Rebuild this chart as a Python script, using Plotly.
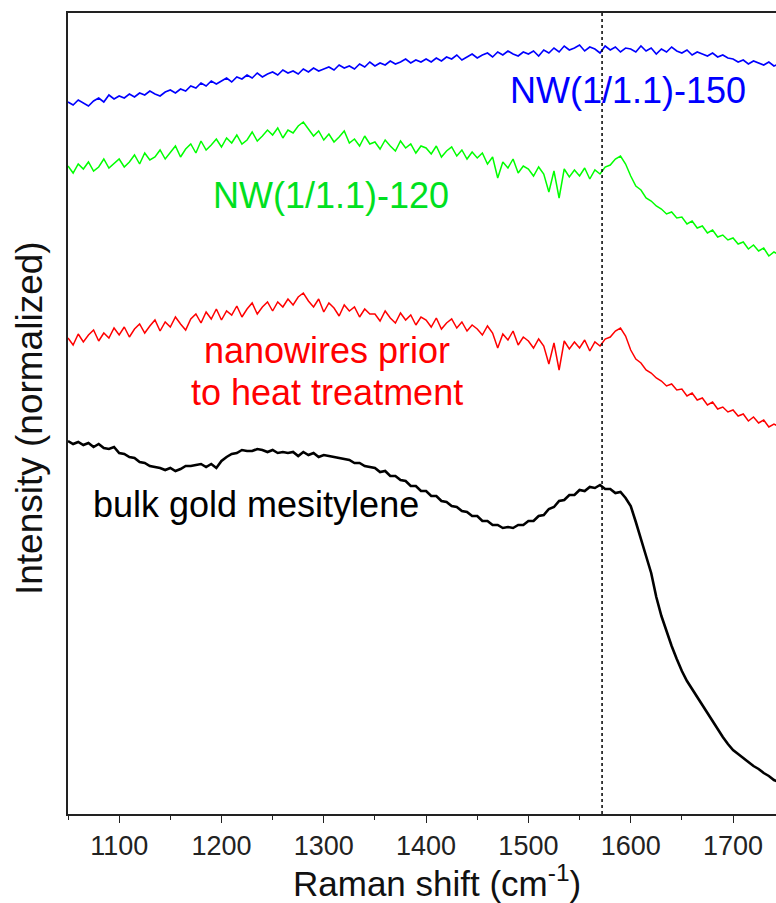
import plotly.graph_objects as go

# Raman shift grid (cm^-1), 5 cm^-1 spacing
wavenumber = list(range(1050, 1746, 5))

# Intensities (normalized, vertically offset, arbitrary units)
nw150 = [712, 709, 714, 711, 708, 713, 716, 712, 719, 715,
         718, 716, 720, 717, 721, 719, 723, 720, 718, 722,
         724, 721, 725, 723, 728, 726, 731, 728, 733, 730,
         733, 736, 732, 737, 735, 739, 736, 741, 737, 740,
         742, 739, 744, 741, 743, 740, 745, 742, 746, 743,
         745, 747, 744, 749, 746, 748, 745, 750, 747, 752,
         748, 751, 749, 753, 750, 752, 755, 751, 754, 752,
         755, 752, 756, 753, 757, 755, 759, 754, 757, 760,
         756, 759, 761, 757, 762, 759, 763, 760, 758, 762,
         760, 763, 758, 764, 761, 766, 762, 768, 764, 766,
         769, 763, 767, 765, 761, 768, 764, 767, 762, 766,
         765, 762, 768, 763, 766, 760, 765, 762, 767, 763,
         761, 764, 759, 762, 760, 758, 761, 757, 759, 756,
         755, 752, 754, 750, 753, 751, 749, 752, 748, 750]

nw120 = [648, 641, 650, 645, 652, 643, 647, 655, 646, 651,
         655, 647, 652, 659, 650, 661, 654, 657, 664, 655,
         662, 668, 657, 665, 670, 661, 673, 664, 669, 675,
         667, 676, 671, 679, 670, 674, 682, 673, 678, 684,
         679, 686, 676, 684, 681, 688, 692, 685, 678, 683,
         674, 680, 672, 677, 683, 671, 675, 668, 678, 670,
         672, 665, 674, 668, 663, 673, 666, 670, 661, 668,
         666, 660, 668, 657, 663, 667, 658, 664, 655, 662,
         656, 661, 650, 657, 636, 652, 646, 655, 641, 648,
         645, 638, 647, 640, 622, 643, 616, 645, 637, 644,
         638, 646, 635, 644, 640, 647, 649, 655, 658, 650,
         638, 628, 624, 616, 613, 608, 605, 600, 602, 596,
         597, 590, 593, 586, 588, 581, 584, 577, 579, 574,
         576, 570, 572, 565, 569, 563, 566, 558, 562, 559]

nw_prior = [476, 469, 480, 472, 479, 484, 473, 481, 476, 486,
            479, 487, 477, 485, 490, 481, 488, 494, 483, 492,
            487, 497, 490, 484, 495, 500, 491, 502, 495, 505,
            494, 503, 499, 508, 497, 505, 511, 500, 507, 512,
            503, 512, 507, 515, 509, 517, 521, 513, 507, 515,
            502, 511, 506, 498, 509, 503, 507, 497, 505, 500,
            500, 493, 503, 496, 491, 501, 494, 499, 489, 497,
            494, 487, 496, 485, 491, 495, 486, 492, 483, 489,
            485, 479, 488, 481, 466, 480, 474, 483, 469, 477,
            473, 466, 475, 468, 450, 471, 444, 473, 465, 472,
            466, 474, 463, 472, 468, 475, 477, 483, 486, 478,
            464, 455, 451, 444, 441, 436, 433, 428, 430, 424,
            425, 418, 421, 414, 416, 409, 412, 405, 407, 402,
            404, 398, 400, 393, 397, 391, 394, 387, 390, 387]

bulk = [373, 370, 372, 369, 371, 367, 370, 366, 365, 367,
        361, 360, 357, 356, 352, 351, 348, 347, 346, 344,
        346, 343, 345, 348, 348, 349, 350, 347, 350, 346,
        353, 357, 360, 361, 364, 363, 363, 365, 364, 362,
        364, 361, 362, 361, 362, 358, 362, 359, 361, 357,
        359, 358, 357, 356, 355, 354, 351, 351, 348, 347,
        346, 342, 343, 338, 338, 334, 333, 328, 328, 323,
        323, 318, 318, 313, 312, 308, 307, 303, 302, 298,
        298, 293, 293, 289, 289, 286, 287, 286, 289, 289,
        293, 293, 298, 299, 305, 307, 313, 314, 319, 319,
        324, 323, 327, 326, 329, 325, 325, 321, 322, 316,
        308, 292, 274, 258, 241, 217, 198, 182, 168, 155,
        143, 133, 125, 116, 108, 100, 92, 84, 77, 70,
        64, 60, 56, 52, 48, 45, 41, 38, 34, 32]

series_names = ["NW(1/1.1)-150", "NW(1/1.1)-120",
                "nanowires prior to heat treatment", "bulk gold mesitylene"]
series_values = [nw150, nw120, nw_prior, bulk]
series_colors = ["#0000FF", "#00FF00", "#FF0000", "#000000"]
series_widths = [1.6, 1.5, 1.5, 2.6]

marker_line = 1572  # dotted reference line (cm^-1)

FONT = "Arial, 'Liberation Sans', Helvetica, sans-serif"

fig = go.Figure()
for name, vals, col, w in zip(series_names, series_values, series_colors, series_widths):
    fig.add_trace(go.Scatter(x=wavenumber, y=vals, mode="lines", name=name,
                             line=dict(color=col, width=w), showlegend=False))

fig.add_shape(type="line", xref="x", yref="paper", x0=marker_line, x1=marker_line,
              y0=0, y1=1, line=dict(color="black", width=1.5, dash="dot"))

ann_font = 36
annots = [
    dict(text="NW(1/1.1)-150", x=1597, y=724, color="#0000FF"),
    dict(text="NW(1/1.1)-120", x=1307, y=619, color="#00E020"),
    dict(text="nanowires prior", x=1303, y=464, color="#FF0000"),
    dict(text="to heat treatment", x=1303, y=422, color="#FF0000"),
    dict(text="bulk gold mesitylene", x=1234, y=310, color="#000000"),
]
for a in annots:
    fig.add_annotation(x=a["x"], y=a["y"], xref="x", yref="y", text=a["text"],
                       showarrow=False, xanchor="center", yanchor="middle",
                       font=dict(family=FONT, size=ann_font, color=a["color"]))

fig.add_annotation(text="Raman shift (cm<sup>-1</sup>)", xref="paper", yref="paper",
                   x=0.521, y=-0.0835, xanchor="center", yanchor="middle", showarrow=False,
                   font=dict(family=FONT, size=35, color="#111111"))
fig.add_annotation(text="Intensity (normalized)", xref="paper", yref="paper",
                   x=-0.054, y=0.494, xanchor="center", yanchor="middle", showarrow=False,
                   textangle=-90, font=dict(family=FONT, size=37, color="#111111"))

fig.update_layout(
    width=776, height=903,
    margin=dict(l=68, r=0, t=13, b=89),
    paper_bgcolor="white", plot_bgcolor="white",
    font=dict(family=FONT, color="#222222"),
)
fig.update_xaxes(range=[1050, 1742], tick0=1000, dtick=100, ticks="outside", ticklen=7,
                 tickwidth=1.3, tickcolor="#222222", showline=True, linecolor="#222222",
                 linewidth=1.5, mirror=True, showgrid=False, zeroline=False,
                 tickfont=dict(family=FONT, size=27, color="#222222"),
                 minor=dict(tick0=1050, dtick=100, ticks="outside", ticklen=4,
                            tickwidth=1.3, tickcolor="#222222", showgrid=False))
fig.update_yaxes(range=[0, 801], showticklabels=False, ticks="", showline=True,
                 linecolor="#222222", linewidth=1.5, showgrid=False, zeroline=False)

fig.write_html("out.html")
